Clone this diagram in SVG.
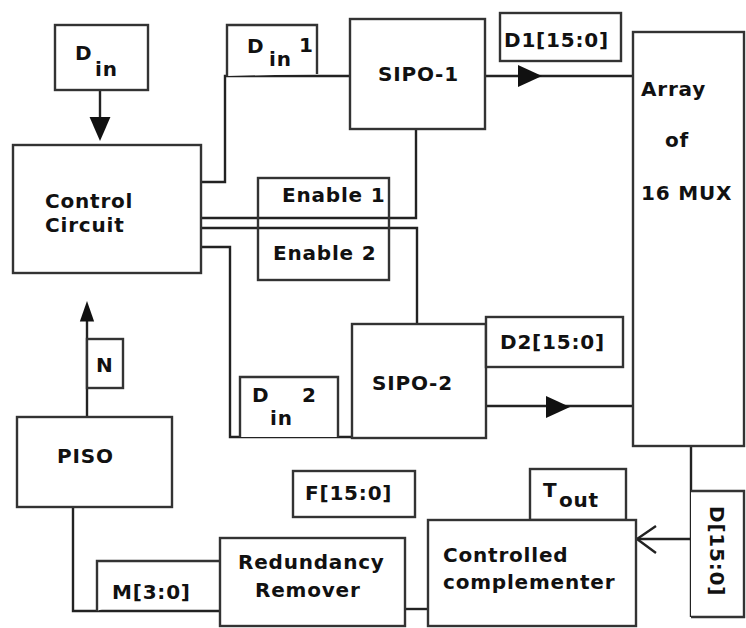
<svg xmlns="http://www.w3.org/2000/svg" width="746" height="628" viewBox="0 0 746 628">
  <style>
    .box { fill: #ffffff; stroke: #333333; stroke-width: 2.4; }
    .wire { fill: none; stroke: #222222; stroke-width: 2.4; }
    .lbl { font-family: "DejaVu Sans", "Liberation Sans", sans-serif; font-size: 20px; font-weight: bold; fill: #111111; letter-spacing: 0.8px; }
    .head { fill: #111111; stroke: none; }
  </style>
  <defs>
    <!-- filled arrowhead pointing right, tip at origin -->
    <path id="tri" d="M-24,-11 L0,0 L-24,11 Z"/>
  </defs>
  <rect width="746" height="628" fill="#ffffff"/>

  <!-- connectors -->
  <g id="connectors">
    <!-- Din -> Control Circuit -->
    <path class="wire" d="M100,90 V118"/>
    <use href="#tri" class="head" transform="translate(100,141) rotate(90) scale(1,0.95)"/>
    <!-- Control -> Din1 -> SIPO-1 -->
    <path class="wire" d="M201,182 H225 V76 H350"/>
    <!-- Enable 1: Control -> SIPO-1 -->
    <path class="wire" d="M201,218 H416 V129"/>
    <!-- Enable 2: Control -> SIPO-2 -->
    <path class="wire" d="M201,228 H417 V324"/>
    <!-- Control -> Din2 -> SIPO-2 -->
    <path class="wire" d="M201,247 H230 V437 H352"/>
    <!-- SIPO-1 -> MUX -->
    <path class="wire" d="M485,76 H633"/>
    <use href="#tri" class="head" transform="translate(542,76)"/>
    <!-- SIPO-2 -> MUX -->
    <path class="wire" d="M486,406 H633"/>
    <use href="#tri" class="head" transform="translate(570,407)"/>
    <!-- MUX -> D[15:0] -> Controlled complementer -->
    <path class="wire" d="M691,446 V617"/>
    <path class="wire" d="M691,539 H637"/>
    <path class="wire" d="M656,526 L637,539 L656,553"/>
    <!-- Redundancy Remover -> Controlled complementer -->
    <path class="wire" d="M405,609 H428"/>
    <!-- PISO -> M[3:0] -> Redundancy Remover -->
    <path class="wire" d="M73,507 V611 H220"/>
    <!-- PISO -> N -> Control Circuit -->
    <path class="wire" d="M87,417 V320"/>
    <use href="#tri" class="head" transform="translate(87,301) rotate(-90) scale(0.85,0.65)"/>
  </g>

  <!-- blocks -->
  <g id="din">
    <rect class="box" x="55" y="25" width="93" height="65"/>
    <text class="lbl" x="75" y="60">D</text>
    <text class="lbl" x="95" y="76">in</text>
  </g>
  <g id="control-circuit">
    <rect class="box" x="13" y="145" width="188" height="128"/>
    <text class="lbl" x="45" y="208">Control</text>
    <text class="lbl" x="45" y="232">Circuit</text>
  </g>
  <g id="din1">
    <path class="box" d="M227,76 V25 H317 V74"/>
    <text class="lbl" x="247" y="53">D</text>
    <text class="lbl" x="269" y="66">in</text>
    <text class="lbl" x="299" y="52">1</text>
  </g>
  <g id="sipo1">
    <rect class="box" x="350" y="19" width="135" height="110"/>
    <text class="lbl" x="378" y="81">SIPO-1</text>
  </g>
  <g id="d1">
    <rect class="box" x="500" y="13" width="121" height="48"/>
    <text class="lbl" x="504" y="47">D1[15:0]</text>
  </g>
  <g id="mux-array">
    <rect class="box" x="633" y="32" width="111" height="414"/>
    <text class="lbl" x="641" y="96">Array</text>
    <text class="lbl" x="665" y="147">of</text>
    <text class="lbl" x="641" y="200">16 MUX</text>
  </g>
  <g id="enable">
    <rect class="box" x="258" y="178" width="131" height="102" style="fill:none"/>
    <text class="lbl" x="282" y="202">Enable 1</text>
    <text class="lbl" x="273" y="260">Enable 2</text>
  </g>
  <g id="din2">
    <path class="box" d="M240,437 V377 H338 V437"/>
    <text class="lbl" x="252" y="402">D</text>
    <text class="lbl" x="302" y="402">2</text>
    <text class="lbl" x="270" y="425">in</text>
  </g>
  <g id="sipo2">
    <rect class="box" x="352" y="324" width="134" height="114"/>
    <text class="lbl" x="372" y="390">SIPO-2</text>
  </g>
  <g id="d2">
    <rect class="box" x="486" y="317" width="137" height="50"/>
    <text class="lbl" x="500" y="349">D2[15:0]</text>
  </g>
  <g id="d-bus">
    <path class="box" d="M691,491 H744 V617 H691"/>
    <text class="lbl" transform="translate(710,506) rotate(90)" x="0" y="0">D[15:0]</text>
  </g>
  <g id="tout">
    <rect class="box" x="530" y="469" width="96" height="51"/>
    <text class="lbl" x="543" y="497">T</text>
    <text class="lbl" x="559" y="507">out</text>
  </g>
  <g id="f">
    <rect class="box" x="293" y="471" width="122" height="46"/>
    <text class="lbl" x="305" y="500">F[15:0]</text>
  </g>
  <g id="controlled-complementer">
    <rect class="box" x="428" y="520" width="208" height="106"/>
    <text class="lbl" x="443" y="562">Controlled</text>
    <text class="lbl" x="443" y="589">complementer</text>
  </g>
  <g id="redundancy-remover">
    <rect class="box" x="220" y="538" width="185" height="88"/>
    <text class="lbl" x="238" y="569">Redundancy</text>
    <text class="lbl" x="255" y="597">Remover</text>
  </g>
  <g id="m">
    <path class="box" d="M97,611 V561 H220"/>
    <text class="lbl" x="112" y="599">M[3:0]</text>
  </g>
  <g id="piso">
    <rect class="box" x="17" y="417" width="155" height="90"/>
    <text class="lbl" x="57" y="463">PISO</text>
  </g>
  <g id="n">
    <rect class="box" x="87" y="339" width="36" height="49"/>
    <text class="lbl" x="96" y="372">N</text>
  </g>
</svg>
